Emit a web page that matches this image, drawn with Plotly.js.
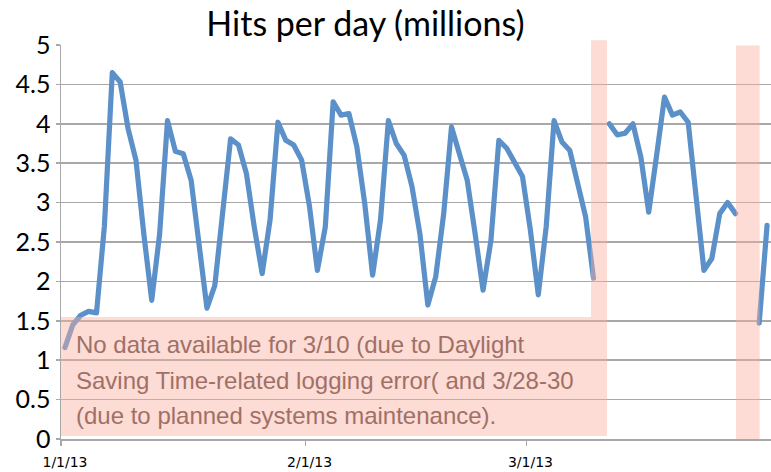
<!DOCTYPE html>
<html>
<head>
<meta charset="utf-8">
<script src="https://cdn.plot.ly/plotly-3.0.1.min.js"></script>
<style>
html, body { margin: 0; padding: 0; background: #fff; }
#chart { width: 771px; height: 472px; }
.js-line { stroke-linejoin: round !important; stroke-linecap: round !important; }
</style>
</head>
<body>
<div id="chart"></div>
<script>
// Dates (one per day, 1/1/13 - 3/31/13)
const datesJan = ['2013-01-01','2013-01-02','2013-01-03','2013-01-04','2013-01-05','2013-01-06','2013-01-07','2013-01-08','2013-01-09','2013-01-10','2013-01-11','2013-01-12','2013-01-13','2013-01-14','2013-01-15','2013-01-16','2013-01-17','2013-01-18','2013-01-19','2013-01-20','2013-01-21','2013-01-22','2013-01-23','2013-01-24','2013-01-25','2013-01-26','2013-01-27','2013-01-28','2013-01-29','2013-01-30','2013-01-31'];
const datesFeb = ['2013-02-01','2013-02-02','2013-02-03','2013-02-04','2013-02-05','2013-02-06','2013-02-07','2013-02-08','2013-02-09','2013-02-10','2013-02-11','2013-02-12','2013-02-13','2013-02-14','2013-02-15','2013-02-16','2013-02-17','2013-02-18','2013-02-19','2013-02-20','2013-02-21','2013-02-22','2013-02-23','2013-02-24','2013-02-25','2013-02-26','2013-02-27','2013-02-28'];
const datesMar = ['2013-03-01','2013-03-02','2013-03-03','2013-03-04','2013-03-05','2013-03-06','2013-03-07','2013-03-08','2013-03-09','2013-03-10','2013-03-11','2013-03-12','2013-03-13','2013-03-14','2013-03-15','2013-03-16','2013-03-17','2013-03-18','2013-03-19','2013-03-20','2013-03-21','2013-03-22','2013-03-23','2013-03-24','2013-03-25','2013-03-26','2013-03-27','2013-03-28','2013-03-29','2013-03-30','2013-03-31'];

// Hits per day (millions); null = no data
const hitsJan = [1.16,1.45,1.57,1.62,1.60,2.70,4.65,4.53,3.94,3.54,2.60,1.76,2.60,4.04,3.65,3.62,3.28,2.48,1.66,1.95,2.85,3.81,3.73,3.37,2.69,2.10,2.78,4.02,3.79,3.73,3.54];
const hitsFeb = [2.95,2.14,2.69,4.28,4.11,4.13,3.71,2.99,2.08,2.78,4.04,3.75,3.60,3.20,2.60,1.70,2.06,2.85,3.96,3.62,3.28,2.60,1.89,2.52,3.79,3.69,3.50,3.33];
const hitsMar = [2.65,1.83,2.69,4.04,3.77,3.66,3.24,2.82,2.04,null,4.00,3.86,3.88,4.00,3.58,2.88,3.60,4.34,4.11,4.15,4.02,3.00,2.14,2.29,2.86,3.00,2.86,null,null,1.47,2.71];

// Axis tick labels
const xTickText = ['1/1/13','2/1/13','3/1/13'];
const xTickVals = ['2012-12-31 12:00','2013-01-31 12:00','2013-02-28 12:00'];

const noteLines = [
  'No data available for 3/10 (due to Daylight',
  'Saving Time-related logging error( and 3/28-30',
  '(due to planned systems maintenance).'
];

const dates = datesJan.concat(datesFeb, datesMar);
const hits = hitsJan.concat(hitsFeb, hitsMar);

const gridCol = '#a8a8a8';
const noteY = [1.2, 0.742, 0.298];

const trace = {
  x: dates, y: hits, type: 'scatter', mode: 'lines',
  line: {color: 'rgb(91,144,201)', width: 5.2},
  connectgaps: false, hoverinfo: 'skip'
};

const layout = {
  width: 771, height: 472,
  margin: {l: 61, r: 0, t: 44.7, b: 33},
  paper_bgcolor: '#fff', plot_bgcolor: '#fff',
  showlegend: false,
  title: {
    text: 'Hits per day (millions)',
    font: {family: 'Lato, sans-serif', size: 34, color: '#000'},
    x: 0.474, xref: 'container', xanchor: 'center',
    y: 0.948, yref: 'container', yanchor: 'middle'
  },
  xaxis: {
    type: 'date',
    range: ['2012-12-31 12:00', '2013-03-31 12:00'],
    tickmode: 'array', tickvals: xTickVals, ticktext: xTickText,
    ticklabelshift: 4, ticklabelstandoff: 5,
    ticks: 'outside', ticklen: 5, tickcolor: gridCol, tickwidth: 1.5,
    showgrid: false, zeroline: false,
    showline: true, linecolor: gridCol, linewidth: 1.5,
    tickfont: {family: 'DejaVu Sans, sans-serif', size: 14, color: '#000'}
  },
  yaxis: {
    range: [0, 5], tick0: 0, dtick: 0.5,
    ticks: 'outside', ticklen: 4, tickcolor: gridCol, tickwidth: 1.5,
    showgrid: true, gridcolor: gridCol, gridwidth: 1.5,
    zeroline: false, showline: true, linecolor: gridCol, linewidth: 1.5,
    tickfont: {family: 'Lato, sans-serif', size: 25, color: '#000'}
  },
  shapes: [
    {type: 'path', xref: 'paper', yref: 'paper', layer: 'above',
     path: 'M0,0.0076 L0.769,0.0076 L0.769,1.012 L0.7465,1.012 L0.7465,0.3094 L0,0.3094 Z',
     fillcolor: 'rgb(248,176,160)', opacity: 0.44, line: {width: 0}},
    {type: 'rect', xref: 'paper', yref: 'paper', layer: 'above',
     x0: 0.9507, x1: 0.984, y0: 0, y1: 0.999,
     fillcolor: 'rgb(248,176,160)', opacity: 0.44, line: {width: 0}}
  ],
  annotations: noteLines.map((t, i) => ({
    text: t, xref: 'paper', yref: 'y', x: 0.019, y: noteY[i],
    xanchor: 'left', yanchor: 'middle', showarrow: false,
    font: {family: 'Liberation Sans, Arial, sans-serif', size: 24, color: 'rgb(160,112,102)'}
  }))
};

Plotly.newPlot('chart', [trace], layout, {displayModeBar: false, staticPlot: true});
</script>
</body>
</html>
